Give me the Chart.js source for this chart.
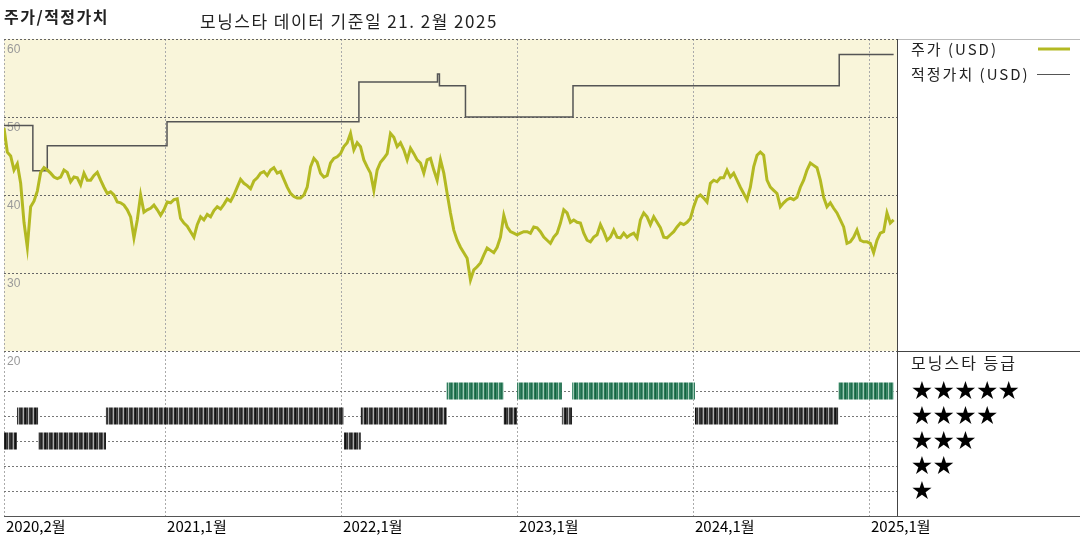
<!DOCTYPE html>
<html><head><meta charset="utf-8">
<script src="https://cdn.jsdelivr.net/npm/chart.js@4/dist/chart.umd.min.js"></script>
<style>html,body{margin:0;padding:0;background:#fff;}#wrap{width:1080px;height:540px;position:relative;}</style>
</head><body><div id="wrap"><canvas id="c" width="1080" height="540"></canvas></div>
<script>
// ---------- data ----------
const chartTitle = '주가/적정가치';
const chartSubtitle = '모닝스타 데이터 기준일 21. 2월 2025';
const legendLabels = ['주가 (USD)', '적정가치 (USD)'];
const ratingLegendTitle = '모닝스타 등급';
const ratingLevels = [5, 4, 3, 2, 1];

const xMinDate = '2020-02-01';
const xMaxDate = '2025-02-28';
const xTickDates = ['2020-02-01', '2021-01-01', '2022-01-01', '2023-01-01', '2024-01-01', '2025-01-01'];
const xTickLabels = ['2020,2월', '2021,1월', '2022,1월', '2023,1월', '2024,1월', '2025,1월'];
const priceTicks = [20, 30, 40, 50, 60];

// weekly closing price (USD), first to last date
const priceStart = '2020-02-01';
const priceEnd = '2025-02-21';
const priceValues = [
  48.6,45.5,45.0,43.2,44.0,41.5,36.5,33.3,38.5,39.2,
  40.5,42.9,43.5,43.2,42.8,42.3,42.1,42.3,43.2,42.9,
  41.7,42.3,42.2,41.3,42.8,41.9,41.9,42.5,42.9,41.9,
  41.0,40.2,40.4,40.0,39.1,39.0,38.7,38.1,37.2,34.5,
  36.8,40.0,37.8,38.1,38.3,38.7,38.1,37.4,38.1,39.1,
  39.0,39.4,39.5,37.0,36.4,36.0,35.3,34.6,36.2,37.2,
  36.8,37.5,37.2,38.0,38.5,38.2,38.8,39.5,39.2,40.0,
  41.0,42.0,41.5,41.2,40.8,41.8,42.2,42.8,43.0,42.5,
  43.2,43.5,42.8,43.0,42.0,41.0,40.2,39.8,39.6,39.6,
  40.0,41.0,43.6,44.7,44.2,42.8,42.3,42.5,44.1,44.7,
  44.9,45.3,46.2,46.7,47.9,45.8,46.7,46.2,44.5,43.6,
  42.8,40.6,43.2,44.2,44.7,45.3,47.9,47.4,46.2,46.7,
  45.8,44.5,46.0,45.3,44.5,44.1,42.8,44.5,44.7,43.2,
  41.9,44.5,42.8,40.2,37.7,35.5,34.2,33.3,32.6,31.9,
  29.1,30.4,30.8,31.3,32.3,33.2,32.9,32.6,33.3,34.6,
  37.4,35.9,35.3,35.1,34.9,35.1,35.3,35.3,35.1,35.9,
  35.8,35.3,34.6,34.2,33.8,34.6,35.1,36.4,38.1,37.7,
  36.5,36.8,36.5,36.4,35.1,34.2,34.0,34.6,34.9,36.2,
  35.3,34.2,34.6,35.5,34.6,34.5,35.1,34.6,34.9,35.1,
  34.5,36.8,37.7,37.2,36.2,37.2,36.5,35.8,34.6,34.5,
  34.9,35.3,35.9,36.4,36.2,36.5,37.0,38.5,39.7,40.0,
  39.6,39.1,41.5,41.9,41.7,42.2,42.2,43.2,42.3,42.8,
  41.9,41.0,40.2,39.4,41.0,43.6,45.1,45.5,45.1,41.9,
  41.0,40.6,40.2,38.5,39.0,39.4,39.6,39.4,39.7,41.0,
  41.9,43.2,44.1,43.8,43.5,41.9,39.7,38.5,39.0,38.3,
  37.7,36.8,35.9,33.8,34.0,34.6,35.5,34.2,34.0,34.0,
  33.8,32.6,34.2,35.1,35.3,37.7,36.4,36.8
];

// fair value (USD) change dates
const fairValueDates = ['2020-02-01','2020-04-01','2020-05-01','2021-01-05','2022-02-07','2022-07-20','2022-07-24','2022-09-16','2023-04-27','2024-10-31','2025-02-21'];
const fairValueValues = [48.9, 43.1, 46.3, 49.4, 54.5, 55.5, 54.0, 50.0, 54.0, 58.0, 58.0];

// Morningstar star rating periods
const ratingStarts = ['2020-02-01','2020-02-28','2020-04-12','2020-08-31','2022-01-07','2022-02-11','2022-08-08','2022-12-04','2023-01-01','2023-04-04','2023-04-25','2024-01-05','2024-10-29'];
const ratingEnds   = ['2020-02-28','2020-04-12','2020-08-31','2022-01-07','2022-02-11','2022-08-08','2022-12-04','2023-01-01','2023-04-04','2023-04-25','2024-01-05','2024-10-29','2025-02-21'];
const ratingValues = [3, 4, 3, 4, 3, 4, 5, 4, 5, 4, 5, 4, 5];

// ---------- helpers ----------
function fy(s) {
  const [Y, M, D] = s.split('-').map(Number);
  const a = Date.UTC(Y, 0, 1), b = Date.UTC(Y + 1, 0, 1);
  return Y + (Date.UTC(Y, M - 1, D) - a) / (b - a);
}
const pStart = fy(priceStart), pEnd = fy(priceEnd);
const pricePts = priceValues.map((v, i) => ({ x: pStart + i * (pEnd - pStart) / (priceValues.length - 1), y: v }));
const fvPts = fairValueDates.map((d, i) => ({ x: fy(d), y: fairValueValues[i] }));
function ratingPts(filter) {
  const out = [];
  ratingValues.forEach((v, i) => {
    if (!filter(v)) return;
    out.push({ x: fy(ratingStarts[i]), y: v }, { x: fy(ratingEnds[i]), y: v }, { x: fy(ratingEnds[i]), y: null });
  });
  return out;
}
function stripes(cols) {
  const c = document.createElement('canvas');
  c.width = cols.length; c.height = 1;
  const g = c.getContext('2d');
  cols.forEach((col, i) => { g.fillStyle = col; g.fillRect(i, 0, 1, 1); });
  return document.getElementById('c').getContext('2d').createPattern(c, 'repeat');
}
const greenPat = stripes(['#2f7d5d','#1f6c4c','#4a9274','#9cc6b2','#2a7858','#17643f','#3b8a69','#2f7d5d','#a8cdbb','#358362']);
const darkPat = stripes(['#333','#222','#555','#aaa','#2a2a2a','#111','#444','#333','#b0b0b0','#3a3a3a']);

const cjk = '"Noto Sans CJK KR", "Noto Sans", sans-serif';
function spacing(ctx, v) { try { ctx.letterSpacing = v; } catch (e) {} }

const decor = {
  id: 'decor',
  beforeDraw(chart) {
    const { ctx, chartArea: a } = chart;
    const y = chart.scales.y;
    ctx.save();
    ctx.fillStyle = '#fff';
    ctx.fillRect(0, 0, chart.width, chart.height);
    ctx.fillStyle = '#f9f5da';
    ctx.fillRect(a.left, y.getPixelForValue(60), a.right - a.left, y.getPixelForValue(20) - y.getPixelForValue(60));
    ctx.restore();
  },
  afterDraw(chart) {
    const { ctx, chartArea: a } = chart;
    const y = chart.scales.y, r = chart.scales.yRating;
    const W = chart.width;
    ctx.save();
    ctx.lineWidth = 1;
    ctx.strokeStyle = '#bbb';
    ctx.beginPath(); ctx.moveTo(a.right, Math.round(a.top) + 0.5); ctx.lineTo(W, Math.round(a.top) + 0.5); ctx.stroke();
    ctx.strokeStyle = '#444';
    const ySplit = Math.round(y.getPixelForValue(20)) + 0.5;
    ctx.beginPath(); ctx.moveTo(a.right, ySplit); ctx.lineTo(W, ySplit); ctx.stroke();
    ctx.beginPath(); ctx.moveTo(Math.round(a.right) + 0.5, a.top); ctx.lineTo(Math.round(a.right) + 0.5, a.bottom); ctx.stroke();
    ctx.strokeStyle = '#555';
    ctx.beginPath(); ctx.moveTo(a.left, Math.round(a.bottom) + 0.5); ctx.lineTo(W, Math.round(a.bottom) + 0.5); ctx.stroke();

    // titles
    ctx.fillStyle = '#222';
    ctx.textBaseline = 'middle';
    ctx.textAlign = 'left';
    spacing(ctx, '1.5px');
    ctx.font = 'bold 16px ' + cjk;
    ctx.fillText(chartTitle, 4, 17);
    ctx.font = '17px ' + cjk;
    ctx.fillText(chartSubtitle, 200, 22);

    // legend
    const lx = a.right + 14;
    spacing(ctx, '2px');
    ctx.font = '15px ' + cjk;
    ctx.fillText(legendLabels[0], lx, 49);
    ctx.fillText(legendLabels[1], lx, 74);
    spacing(ctx, '0px');
    ctx.strokeStyle = chart.data.datasets[0].borderColor;
    ctx.lineWidth = 3;
    ctx.beginPath(); ctx.moveTo(1038, 49); ctx.lineTo(1070, 49); ctx.stroke();
    ctx.strokeStyle = '#555';
    ctx.lineWidth = 1;
    ctx.beginPath(); ctx.moveTo(1037, 74.5); ctx.lineTo(1070, 74.5); ctx.stroke();

    // rating legend
    spacing(ctx, '2px');
    ctx.font = '16px ' + cjk;
    ctx.fillText(ratingLegendTitle, lx, 363);
    spacing(ctx, '0px');
    ctx.font = '25px "DejaVu Sans", sans-serif';
    ctx.textAlign = 'center';
    ctx.fillStyle = '#000';
    ratingLevels.forEach(n => {
      const py = r.getPixelForValue(n);
      for (let k = 0; k < n; k++) ctx.fillText('★', 922 + k * 21.7, py + 1);
    });
    ctx.restore();
  }
};

new Chart(document.getElementById('c'), {
  type: 'line',
  data: {
    datasets: [
      { label: legendLabels[0], data: pricePts, yAxisID: 'y', borderColor: '#b3b922', borderWidth: 3, pointRadius: 0, tension: 0, order: 1 },
      { label: legendLabels[1], data: fvPts, yAxisID: 'y', borderColor: '#555', borderWidth: 1.5, stepped: 'before', pointRadius: 0, order: 2 },
      { label: '5', data: ratingPts(v => v === 5), yAxisID: 'yRating', borderColor: greenPat, borderWidth: 17, borderCapStyle: 'butt', pointRadius: 0, spanGaps: false },
      { label: '4-3', data: ratingPts(v => v !== 5), yAxisID: 'yRating', borderColor: darkPat, borderWidth: 17, borderCapStyle: 'butt', pointRadius: 0, spanGaps: false }
    ]
  },
  options: {
    responsive: false,
    animation: false,
    devicePixelRatio: 1,
    layout: { padding: { left: 4, right: 183, top: 39, bottom: 4 } },
    plugins: { legend: { display: false }, tooltip: { enabled: false } },
    scales: {
      x: {
        type: 'linear', min: fy(xMinDate), max: fy(xMaxDate),
        afterBuildTicks: s => { s.ticks = xTickDates.map(d => ({ value: fy(d) })); },
        ticks: { callback: (v, i) => xTickLabels[i], align: 'start', labelOffset: 2, padding: 1, autoSkip: false, maxRotation: 0,
                 color: '#000', font: { family: cjk, size: 15 } },
        grid: { color: '#aaa', drawTicks: false },
        border: { display: false, dash: [2, 2] }
      },
      yRating: {
        type: 'linear', position: 'left', stack: 'main', stackWeight: 165, min: 0, max: 6.6,
        afterBuildTicks: s => { s.ticks = ratingLevels.map(v => ({ value: v })); },
        afterFit: s => { s.width = 0; },
        ticks: { display: false },
        grid: { color: '#777', drawTicks: false },
        border: { display: false, dash: [2, 2] }
      },
      y: {
        type: 'linear', position: 'left', stack: 'main', stackWeight: 312, min: 20, max: 60,
        afterBuildTicks: s => { s.ticks = priceTicks.map(v => ({ value: v })); },
        afterFit: s => { s.width = 0; },
        ticks: { mirror: true, labelOffset: 11, padding: 3, color: '#999', font: { family: '"Liberation Sans", sans-serif', size: 12 } },
        grid: { color: '#666', drawTicks: false },
        border: { display: false, dash: [2, 2] }
      }
    }
  },
  plugins: [decor]
});
</script>
</body></html>
